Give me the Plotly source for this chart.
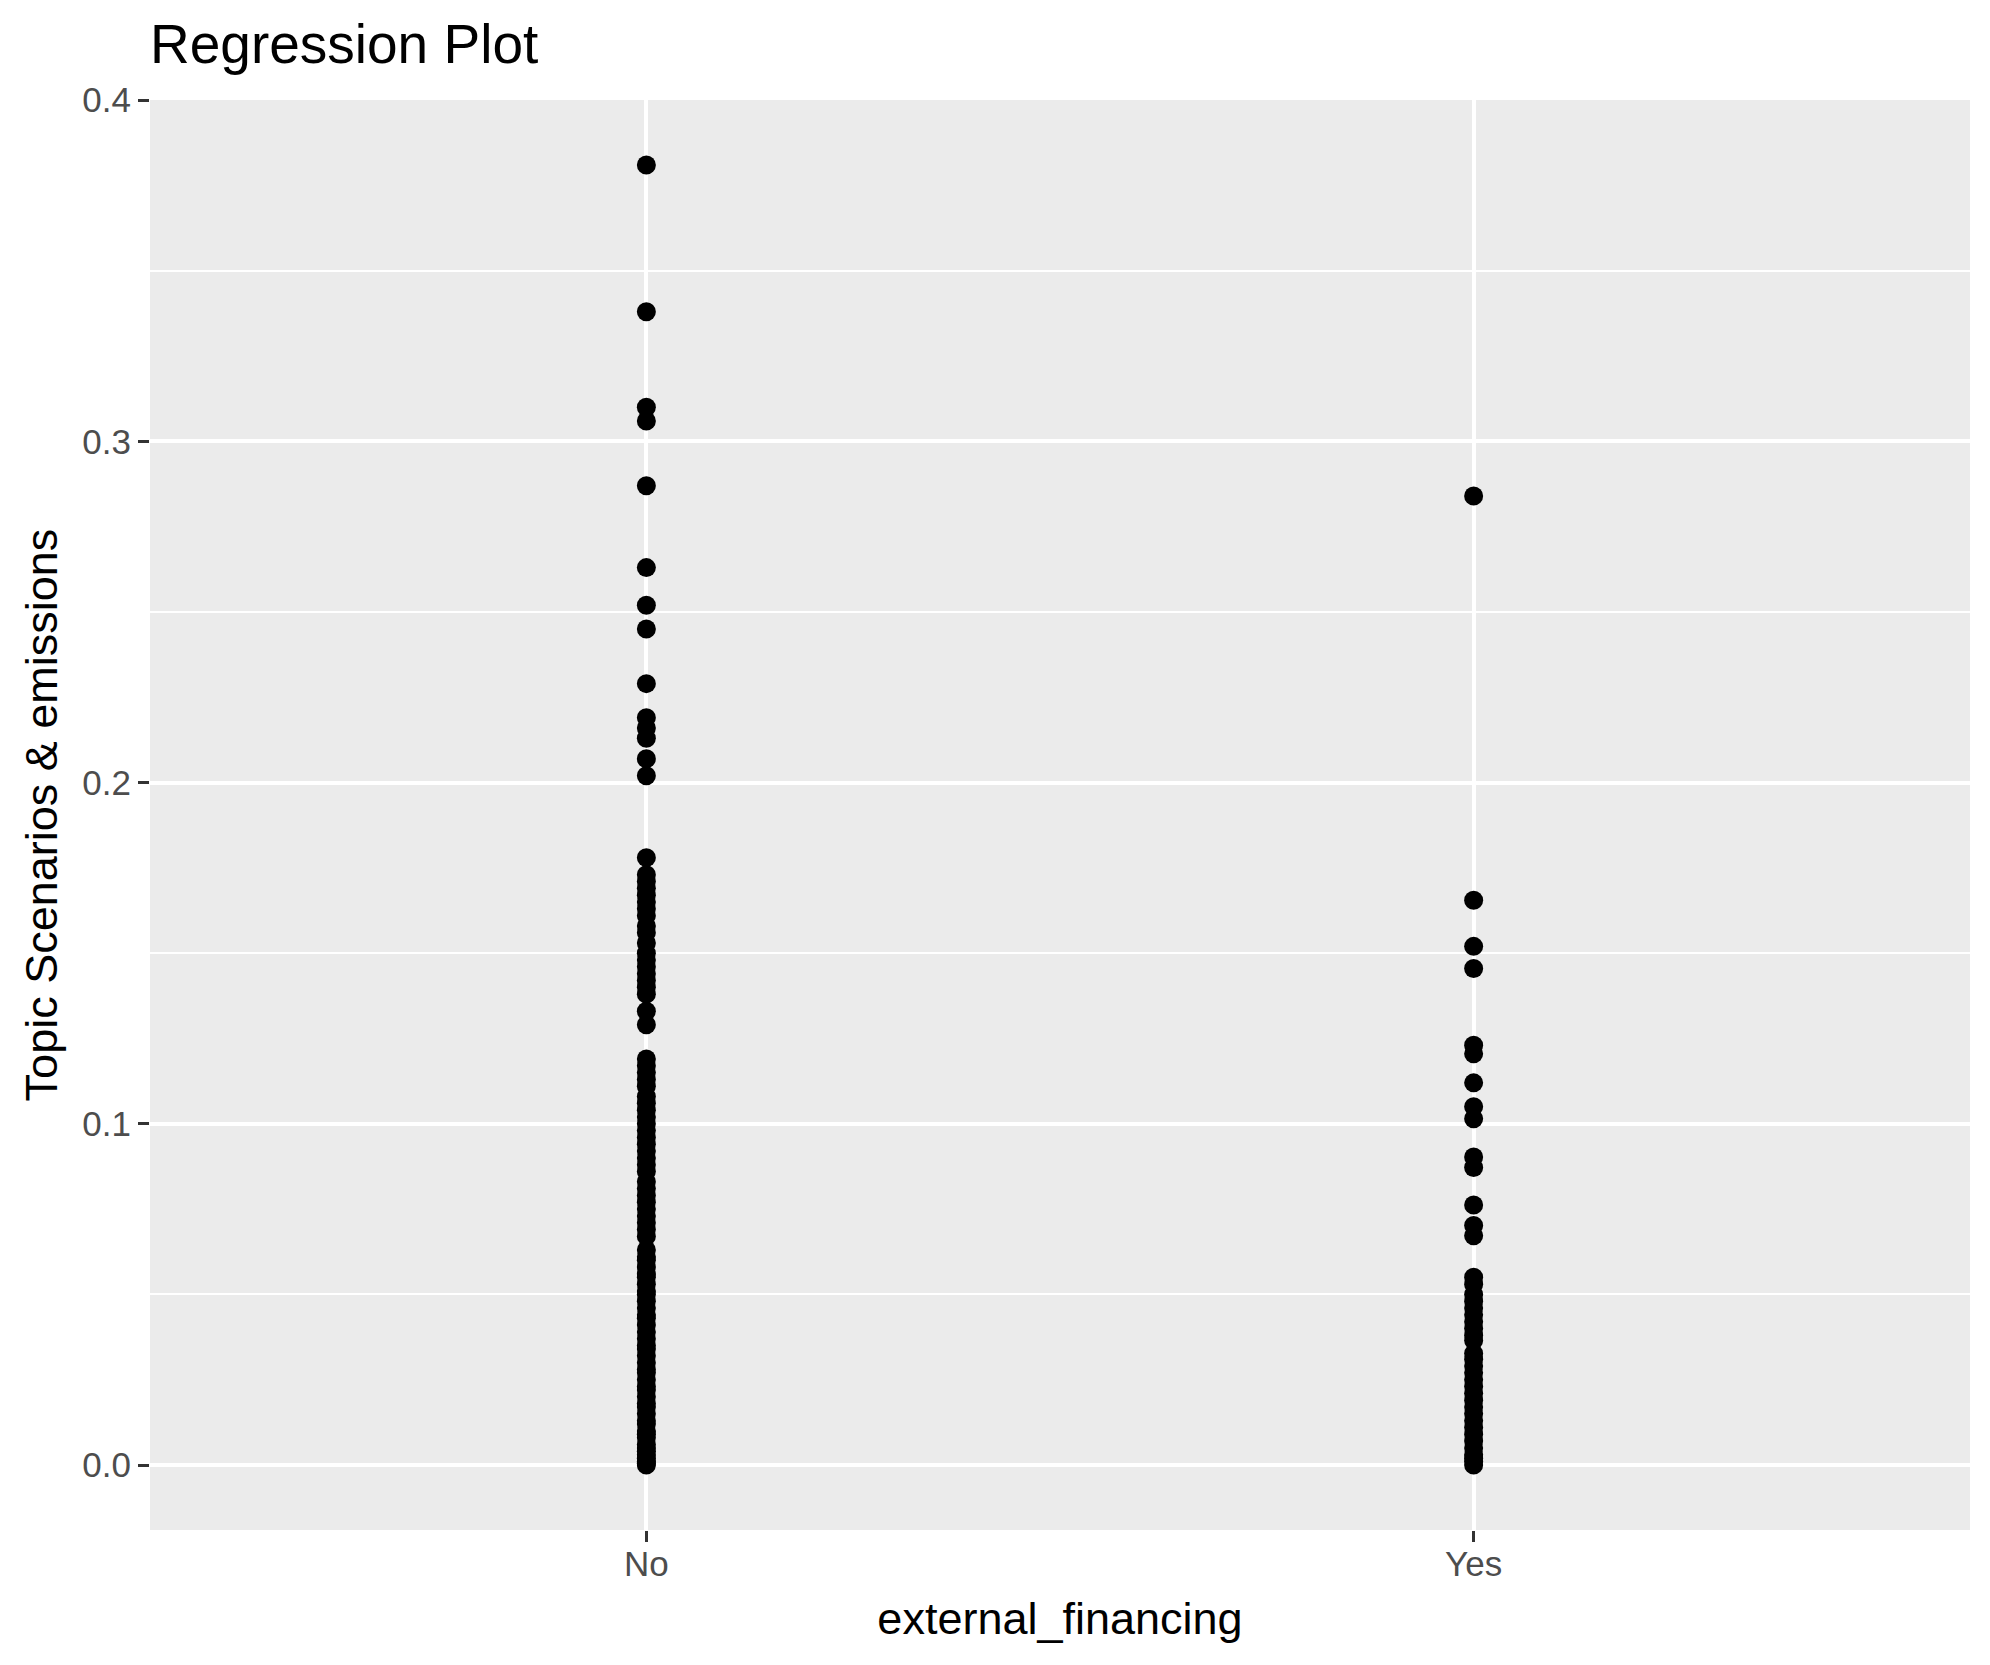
import plotly.graph_objects as go

categories = ["No", "Yes"]

no_values = [0.381, 0.338, 0.310, 0.306, 0.287, 0.263, 0.252, 0.245, 0.229, 0.219,
             0.216, 0.213, 0.207, 0.202, 0.178, 0.173, 0.171, 0.169, 0.167, 0.165,
             0.163, 0.161, 0.158, 0.156, 0.153, 0.150, 0.148, 0.146, 0.144, 0.142,
             0.140, 0.138, 0.133, 0.129, 0.119, 0.117, 0.115, 0.113, 0.111, 0.108,
             0.106, 0.104, 0.102, 0.100, 0.098, 0.096, 0.094, 0.092, 0.090, 0.088,
             0.086, 0.083, 0.081, 0.079, 0.077, 0.075, 0.073, 0.071, 0.069, 0.067,
             0.063, 0.061, 0.060, 0.058, 0.056, 0.055, 0.053, 0.051, 0.050, 0.048,
             0.046, 0.044, 0.043, 0.041, 0.039, 0.037, 0.035, 0.034, 0.032, 0.030,
             0.028, 0.027, 0.025, 0.023, 0.022, 0.020, 0.018, 0.017, 0.015, 0.013,
             0.012, 0.010, 0.009, 0.008, 0.006, 0.005, 0.004, 0.003, 0.002, 0.001,
             0.0005, 0.0]

yes_values = [0.284, 0.1655, 0.152, 0.1455, 0.123, 0.1205, 0.112, 0.105, 0.1015, 0.0903,
              0.0872, 0.0762, 0.0702, 0.0672, 0.055, 0.053, 0.050, 0.048, 0.046, 0.044,
              0.042, 0.040, 0.038, 0.0365, 0.0327, 0.031, 0.029, 0.027, 0.025, 0.023,
              0.021, 0.019, 0.017, 0.015, 0.013, 0.011, 0.009, 0.007, 0.005, 0.003,
              0.002, 0.001, 0.0]

y_ticks = [0.0, 0.1, 0.2, 0.3, 0.4]
y_tick_labels = ["0.0", "0.1", "0.2", "0.3", "0.4"]

x_all = [categories[0]] * len(no_values) + [categories[1]] * len(yes_values)
y_all = no_values + yes_values

font_family = "Liberation Sans, Arial, sans-serif"

fig = go.Figure()
fig.add_trace(go.Scatter(
    x=x_all, y=y_all, mode="markers",
    marker=dict(color="black", size=19, line=dict(width=0)),
    showlegend=False, hoverinfo="x+y",
))

ymax = max(y_all)
ymin = min(y_all)
pad = (ymax - ymin) * 0.05

fig.update_layout(
    width=1990, height=1665,
    margin=dict(l=142, r=28, t=92, b=143),
    paper_bgcolor="white",
    plot_bgcolor="#EBEBEB",
    font=dict(family=font_family, color="black"),
    title=dict(text="Regression Plot", x=142/1990, xref="container", xanchor="left",
               y=1 - 36/1665, yref="container", yanchor="middle",
               font=dict(size=55, color="black")),
    xaxis=dict(
        type="category", categoryorder="array", categoryarray=categories,
        range=[-0.6, 1.6],
        showgrid=True, gridcolor="white", gridwidth=4,
        zeroline=False, showline=False,
        ticks="outside", ticklen=11, tickwidth=2.6, tickcolor="#333333",
        ticklabelstandoff=-8,
        tickfont=dict(size=35, color="#4D4D4D"),
        title=dict(text="external_financing", font=dict(size=45, color="black"), standoff=20),
    ),
    yaxis=dict(
        range=[ymin - pad, ymax + pad],
        tickvals=y_ticks, ticktext=y_tick_labels,
        showgrid=True, gridcolor="white", gridwidth=4,
        minor=dict(dtick=0.05, tick0=0.05, showgrid=True, gridcolor="white", gridwidth=2, ticks=""),
        zeroline=False, showline=False,
        ticks="outside", ticklen=11, tickwidth=2.6, tickcolor="#333333",
        tickfont=dict(size=35, color="#4D4D4D"),
        title=dict(text="Topic Scenarios &amp; emissions", font=dict(size=45, color="black"), standoff=10),
    ),
)

fig.write_html("out.html")
